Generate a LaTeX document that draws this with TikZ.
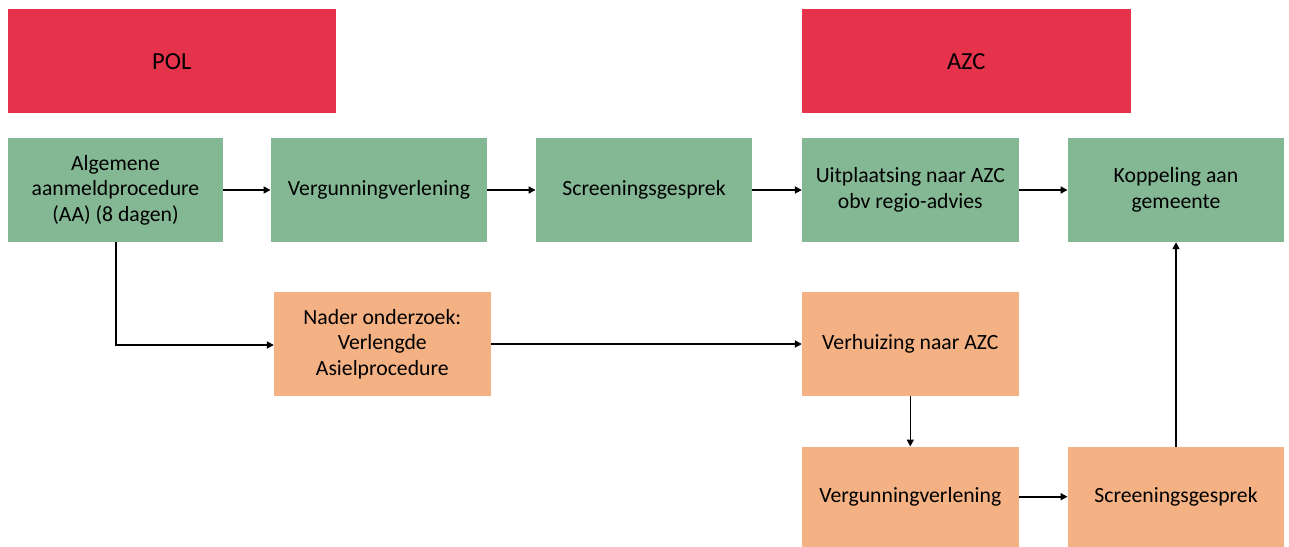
\documentclass[tikz,border=0pt]{standalone}
\usepackage{fontspec}
\setmainfont{Carlito}
\usetikzlibrary{arrows.meta}
\definecolor{polred}{RGB}{230,51,76}
\definecolor{boxgreen}{RGB}{132,184,148}
\definecolor{boxorange}{RGB}{244,177,131}
\tikzset{
  box/.style={draw=none, minimum width=216.5pt, minimum height=104pt, align=center, inner sep=0pt,
    font=\fontsize{21.7}{25.5}\selectfont, text=black},
  redbox/.style={box, fill=polred, minimum width=328.5pt, font=\fontsize{24.5}{29}\selectfont},
  greenbox/.style={box, fill=boxgreen},
  orangebox/.style={box, fill=boxorange},
  conn/.style={line width=1.6pt, -{Triangle[length=7pt,width=7pt]}}
}
\begin{document}
\begin{tikzpicture}[x=1pt,y=-1pt]
\useasboundingbox (0,0) rectangle (1289,546);
\node[redbox] (pol) at (171.75,61.3) {POL};
\node[redbox] (azc) at (966.25,61.3) {AZC};
\node[greenbox, minimum width=215.5pt] (aa) at (115.5,190) {Algemene\\aanmeldprocedure\\(AA) (8 dagen)};
\node[greenbox] (verg1) at (379,190) {Vergunningverlening};
\node[greenbox] (scr1) at (644,190) {Screeningsgesprek};
\node[greenbox] (uit) at (910.3,190) {Uitplaatsing naar AZC\\obv regio-advies};
\node[greenbox] (kop) at (1176,190) {Koppeling aan\\gemeente};
\node[orangebox] (nader) at (382.3,344) {Nader onderzoek:\\Verlengde\\Asielprocedure};
\node[orangebox] (verh) at (910.3,344) {Verhuizing naar AZC};
\node[orangebox, minimum height=100pt] (verg2) at (910.3,496.7) {Vergunningverlening};
\node[orangebox, minimum height=100pt] (scr2) at (1176,496.7) {Screeningsgesprek};
\coordinate (bend) at (115.7,345);
\draw[conn] (aa.east) -- (verg1.west);
\draw[conn] (verg1.east) -- (scr1.west);
\draw[conn] (scr1.east) -- (uit.west);
\draw[conn] (uit.east) -- (kop.west);
\draw[conn] (aa.south -| bend) -- (bend) -- (bend -| nader.west);
\draw[conn] (nader.east) -- (verh.west);
\draw[conn] (verh.south) -- (verg2.north);
\draw[conn] (verg2.east) -- (scr2.west);
\draw[conn] (scr2.north) -- (kop.south);
\end{tikzpicture}
\end{document}
